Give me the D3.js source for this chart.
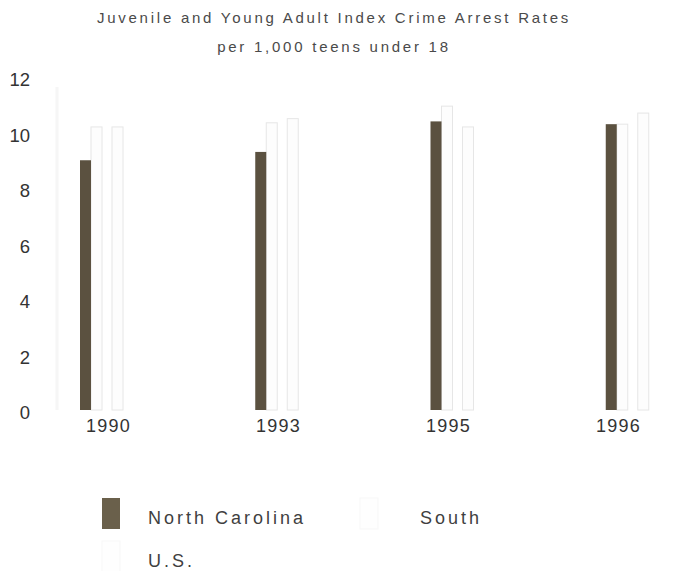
<!DOCTYPE html>
<html>
<head>
<meta charset="utf-8">
<script src="https://cdn.jsdelivr.net/npm/d3@7"></script>
<style>
  html, body { margin: 0; padding: 0; background: #ffffff; }
  svg { display: block; }
  text { font-family: "Liberation Sans", Arial, sans-serif; }
</style>
</head>
<body>
<svg id="chart" width="675" height="571"></svg>
<script>
// ---- data ----
const years = ["1990", "1993", "1995", "1996"];
const northCarolina = [9.0, 9.3, 10.4, 10.3];
const south = [10.2, 10.35, 10.95, 10.3];
const us = [10.2, 10.5, 10.2, 10.7];
const yTicks = [0, 2, 4, 6, 8, 10, 12];
const seriesNames = ["North Carolina", "South", "U.S."];
const titleLines = ["Juvenile and Young Adult Index Crime Arrest Rates", "per 1,000 teens under 18"];

const svg = d3.select("#chart");

// ---- scales ----
const y = d3.scaleLinear().domain([0, 12]).range([410, 77]);
const xBand = d3.scaleBand().domain(years).range([50, 751]).paddingInner(0).paddingOuter(0);
const xLabel = d3.scalePoint().domain(years).range([108, 618]);

const barW = 11;
const series = [
  { name: seriesNames[0], values: northCarolina, offset: 30, fill: "#5b5140", stroke: "none" },
  { name: seriesNames[1], values: south, offset: 41, fill: "#fdfdfd", stroke: "#e6e6e6" },
  { name: seriesNames[2], values: us, offset: 62, fill: "#fdfdfd", stroke: "#e6e6e6" }
];

// ---- titles ----
svg.selectAll("text.title").data(titleLines).enter().append("text")
  .attr("class", "title")
  .attr("x", 334)
  .attr("y", (d, i) => 23 + i * 29)
  .attr("text-anchor", "middle")
  .attr("font-size", 15)
  .attr("letter-spacing", 2.75)
  .attr("fill", "#4a4a4a")
  .text(d => d);

// faint y axis line
svg.append("line")
  .attr("x1", 57).attr("x2", 57)
  .attr("y1", y(12) + 10).attr("y2", y(0))
  .attr("stroke", "#f6f6f6").attr("stroke-width", 3);

// ---- bars (pale ones first, dark on top) ----
[series[1], series[2], series[0]].forEach(s => {
  svg.append("g").selectAll("rect").data(years).enter().append("rect")
    .attr("x", d => xBand(d) + s.offset)
    .attr("y", (d, i) => y(s.values[i]))
    .attr("width", barW)
    .attr("height", (d, i) => y(0) - y(s.values[i]))
    .attr("fill", s.fill)
    .attr("stroke", s.stroke)
    .attr("stroke-width", s.stroke === "none" ? 0 : 1);
});

// ---- y axis ----
const yAxis = d3.axisLeft(y).tickValues(yTicks).tickSize(0).tickPadding(0).tickFormat(d3.format("d"));
const gy = svg.append("g").attr("transform", "translate(30,3)").call(yAxis);
gy.select(".domain").remove();
gy.selectAll("text")
  .attr("font-size", 18.5)
  .attr("fill", "#333")
  .attr("font-family", "Liberation Sans, Arial, sans-serif");

// ---- x axis ----
const xAxis = d3.axisBottom(xLabel).tickSize(0).tickPadding(0);
const gx = svg.append("g").attr("transform", "translate(0,419)").call(xAxis);
gx.select(".domain").remove();
gx.selectAll("text")
  .attr("font-size", 18)
  .attr("letter-spacing", 1.2)
  .attr("fill", "#333")
  .attr("font-family", "Liberation Sans, Arial, sans-serif");

// ---- legend ----
const legendItems = [
  { name: seriesNames[0], sx: 102, sy: 498, tx: 148, ty: 524, fill: "#6a604b", stroke: "none" },
  { name: seriesNames[1], sx: 360, sy: 498, tx: 420, ty: 524, fill: "#fefefe", stroke: "#f7f7f7" },
  { name: seriesNames[2], sx: 102, sy: 541, tx: 148, ty: 567, fill: "#fefefe", stroke: "#f7f7f7" }
];
const lg = svg.append("g").selectAll("g").data(legendItems).enter().append("g");
lg.append("rect")
  .attr("x", d => d.sx).attr("y", d => d.sy)
  .attr("width", 18).attr("height", 31)
  .attr("fill", d => d.fill)
  .attr("stroke", d => d.stroke);
lg.append("text")
  .attr("x", d => d.tx).attr("y", d => d.ty)
  .attr("font-size", 18)
  .attr("letter-spacing", 3.0)
  .attr("fill", "#3f3f3f")
  .text(d => d.name);
</script>
</body>
</html>
